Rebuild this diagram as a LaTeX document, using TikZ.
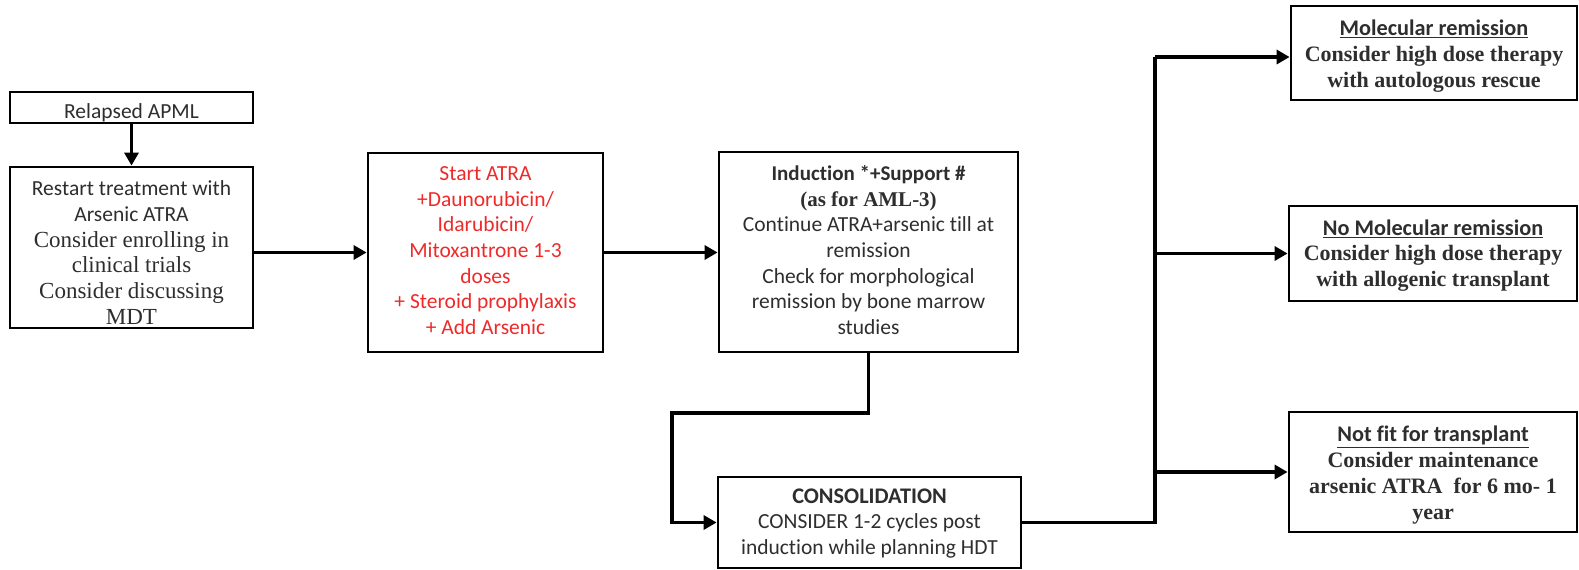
\documentclass[tikz,border=0pt]{standalone}
\usepackage{fontspec}
\setmainfont{Carlito}[Ligatures=NoCommon]
\newfontfamily\tnr{Liberation Serif}
\usetikzlibrary{arrows.meta}
\definecolor{inkgray}{HTML}{2E2E2E}
\definecolor{redtxt}{HTML}{EE2A2A}
% size helpers: bold sans headings, serif lines
\newcommand{\headline}[1]{{\fontsize{22.3pt}{25.7pt}\selectfont\bfseries #1}}
\newcommand{\serifline}[1]{{\fontsize{23pt}{25.7pt}\selectfont\tnr #1}}
\newcommand{\serifbold}[1]{{\fontsize{22pt}{25.7pt}\selectfont\tnr\bfseries #1}}
\begin{document}
\begin{tikzpicture}[x=1pt,y=-1pt,
  box/.style={draw=black, line width=2.8pt, fill=white, inner sep=0pt},
  txt/.style={inner sep=0pt, align=center, text=inkgray,
    font=\fontsize{21.5pt}{25.7pt}\selectfont},
  conn/.style={line width=3.6pt},
  arr/.style={conn, -{Triangle[length=13pt,width=14pt]}}]
\useasboundingbox (0,0) rectangle (1579,570);

% boxes
\node[box, minimum width=243pt, minimum height=31pt]  (relapse)   at (131.5,107.5) {};
\node[box, minimum width=243pt, minimum height=161pt] (restart)   at (131.5,247.5) {};
\node[box, minimum width=235pt, minimum height=199pt] (start)     at (485.5,252.5) {};
\node[box, minimum width=299pt, minimum height=200pt] (induction) at (868.5,252) {};
\node[box, minimum width=303pt, minimum height=91pt]  (consol)    at (869.5,522.5) {};
\node[box, minimum width=286pt, minimum height=94pt]  (molrem)    at (1434,53) {};
\node[box, minimum width=288pt, minimum height=95pt]  (nomol)     at (1433,253.5) {};
\node[box, minimum width=288pt, minimum height=120pt] (notfit)    at (1433,472) {};

% box texts
\node[txt] (relapse-t) at ([yshift=-5pt]relapse.center) {Relapsed APML};
\node[txt] (restart-t) at ([yshift=-5pt]restart.center)
  {Restart treatment with\\ Arsenic ATRA\\
   \serifline{Consider enrolling in}\\ \serifline{clinical trials}\\
   \serifline{Consider discussing}\\ \serifline{MDT}};
\node[txt, text=redtxt] (start-t) at ([yshift=2pt]start.center)
  {Start ATRA\\ +Daunorubicin/\\ Idarubicin/\\ Mitoxantrone 1-3\\ doses\\
   + Steroid prophylaxis\\ + Add Arsenic};
\node[txt] (induction-t) at ([yshift=2pt]induction.center)
  {{\fontsize{21pt}{25.7pt}\selectfont\bfseries Induction *+Support \#}\\
   {\fontsize{21pt}{25.7pt}\selectfont\tnr\bfseries (as for AML-3)}\\
   Continue ATRA+arsenic till at\\ remission\\ Check for morphological\\
   remission by bone marrow\\ studies};
\node[txt] (consol-t) at ([yshift=-1pt]consol.center)
  {\headline{CONSOLIDATION}\\ CONSIDER 1-2 cycles post\\ induction while planning HDT};
\node[txt] (molrem-t) at ([yshift=-3pt]molrem.center)
  {\headline{\underline{Molecular remission}}\\
   \serifbold{Consider high dose therapy}\\ \serifbold{with autologous rescue}};
\node[txt] (nomol-t) at ([yshift=-2pt]nomol.center)
  {\headline{\underline{No Molecular remission}}\\
   \serifbold{Consider high dose therapy}\\ \serifbold{with allogenic transplant}};
\node[txt] (notfit-t) at ([yshift=-3pt]notfit.center)
  {\headline{\underline{Not fit for transplant}}\\
   \serifbold{Consider maintenance}\\ \serifbold{arsenic ATRA\ \ for 6 mo- 1}\\
   \serifbold{year}};

% connectors
\coordinate (loopA) at (672,413);
\coordinate (trunk) at (1155,57);

\draw[arr] (relapse.south) -- (restart.north);
\draw[arr] (restart.east |- start.west) -- (start.west);
\draw[arr] (start.east) -- (start.east -| induction.west);
\draw[arr] (induction.south) |- (loopA) |- (consol.west);
\draw[conn] (consol.east) -| (trunk);
\draw[arr] (trunk) -- (trunk -| molrem.west);
\draw[arr] (trunk |- nomol.west) -- (nomol.west);
\draw[arr] (trunk |- notfit.west) -- (notfit.west);
\end{tikzpicture}
\end{document}
